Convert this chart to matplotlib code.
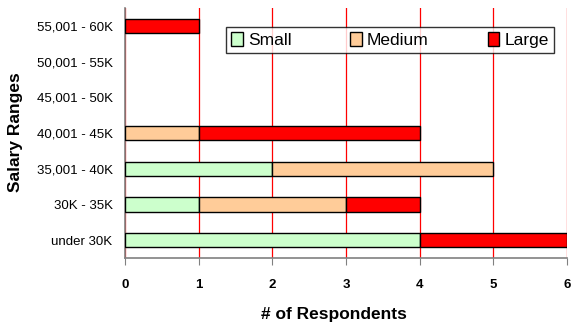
import matplotlib
matplotlib.use("Agg")
import matplotlib.pyplot as plt
import numpy as np

categories = ["under 30K", "30K - 35K", "35,001 - 40K", "40,001 - 45K",
              "45,001 - 50K", "50,001 - 55K", "55,001 - 60K"]
small = [4, 1, 2, 0, 0, 0, 0]
medium = [0, 2, 3, 1, 0, 0, 0]
large = [2, 1, 0, 3, 0, 0, 1]
series_names = ["Small", "Medium", "Large"]
colors = ["#CCFFCC", "#FFCC99", "#FF0000"]

plt.rcParams["font.family"] = ["Liberation Sans", "DejaVu Sans"]

fig = plt.figure(figsize=(5.71, 3.32), dpi=100)
ax = fig.add_axes([0.219, 0.223, 0.774, 0.753])

y = np.arange(len(categories))
left = np.zeros(len(categories))
for name, vals, col in zip(series_names, [small, medium, large], colors):
    vals = np.array(vals, dtype=float)
    mask = vals > 0
    ax.barh(y[mask], vals[mask], left=left[mask], height=0.4, color=col,
            edgecolor="black", linewidth=1.0, label=name, zorder=3)
    left += vals

ax.set_xlim(0, 6)
ax.set_ylim(-0.5, 6.5)
ax.set_xticks(range(0, 7))
ax.set_yticks(y)
ax.set_yticklabels(categories, fontsize=9.5)
for lbl in ax.get_xticklabels():
    lbl.set_fontweight("bold")
    lbl.set_fontsize(9.5)
ax.tick_params(axis="x", direction="out", length=5, color="#808080", pad=10)
ax.tick_params(axis="y", length=0, pad=9)

ax.grid(axis="x", color="#FF0000", linewidth=0.9, zorder=1)
ax.set_axisbelow(True)
for side in ["top", "right"]:
    ax.spines[side].set_visible(False)
ax.spines["left"].set_color("#808080")
ax.spines["bottom"].set_color("#808080")
ax.spines["left"].set_linewidth(1.2)
ax.spines["bottom"].set_linewidth(1.2)

ax.set_xlabel("# of Respondents", fontsize=12.5, fontweight="bold")
ax.set_ylabel("Salary Ranges", fontsize=12.5, fontweight="bold")
ax.xaxis.set_label_coords(0.473, -0.196)
ax.yaxis.set_label_coords(-0.231, 0.504)

leg = ax.legend(loc="upper right", bbox_to_anchor=(0.97, 0.924), ncol=3,
                frameon=True, fancybox=False, edgecolor="black",
                handlelength=0.65, handleheight=0.85,
                handletextpad=0.3, columnspacing=3.4, borderpad=0.3,
                borderaxespad=0,
                prop={"family": ["Liberation Sans", "DejaVu Sans"], "size": 12.5})
leg.get_frame().set_linewidth(1.0)
leg.set_zorder(5)

fig.savefig("out.png", dpi=100)
